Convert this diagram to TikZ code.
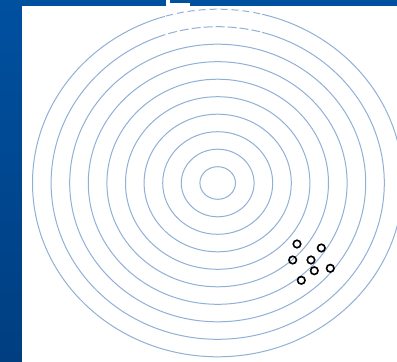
\documentclass[tikz,border=0pt]{standalone}
\usetikzlibrary{calc}
\definecolor{bgblue}{RGB}{0,80,160}
\definecolor{bgdark}{RGB}{0,62,128}
\definecolor{ring}{RGB}{145,176,214}
\tikzset{
  ringline/.style={draw=ring, line width=1pt},
  shot/.style={circle, draw=black, line width=1.6pt, minimum size=7.5pt, inner sep=0pt},
}
\begin{document}
\begin{tikzpicture}[x=1pt,y=-1pt]
\useasboundingbox (0,0) rectangle (397,362);
% background
\fill[bgblue] (0,0) rectangle (397,362);
\shade[top color=bgblue, bottom color=bgdark] (0,0) rectangle (22,362);
\fill[white] (22,5.7) rectangle (397,362);
\fill[white] (165.7,0) rectangle (169.5,6);
\fill[white] (169.5,2.7) rectangle (190,6);
% concentric rings
\coordinate (c) at (217.7,183);
\foreach \k in {0,...,9}{
  \draw[ringline] (c) ellipse [x radius={17.8+18.6*\k}, y radius={16.3+17.5*\k}];
}
% broken parts near the top (white overlay)
\begin{scope}
  \clip (165,0) rectangle (262,40);
  \draw[white, line width=1.8pt, dash pattern=on 4pt off 7pt, dash phase=2pt] (c) ellipse [x radius={17.8+18.6*9}, y radius={16.3+17.5*9}];
  \draw[white, line width=1.8pt, dash pattern=on 3pt off 9pt] (c) ellipse [x radius={17.8+18.6*8}, y radius={16.3+17.5*8}];
\end{scope}
% shots
\node[shot] (s1) at (297,244) {};
\node[shot] (s2) at (321.3,248) {};
\node[shot] (s3) at (292.7,260) {};
\node[shot] (s4) at (311,260) {};
\node[shot] (s5) at (314.3,270.7) {};
\node[shot] (s6) at (330.3,268.3) {};
\node[shot] (s7) at (301.3,280.3) {};
\end{tikzpicture}
\end{document}
